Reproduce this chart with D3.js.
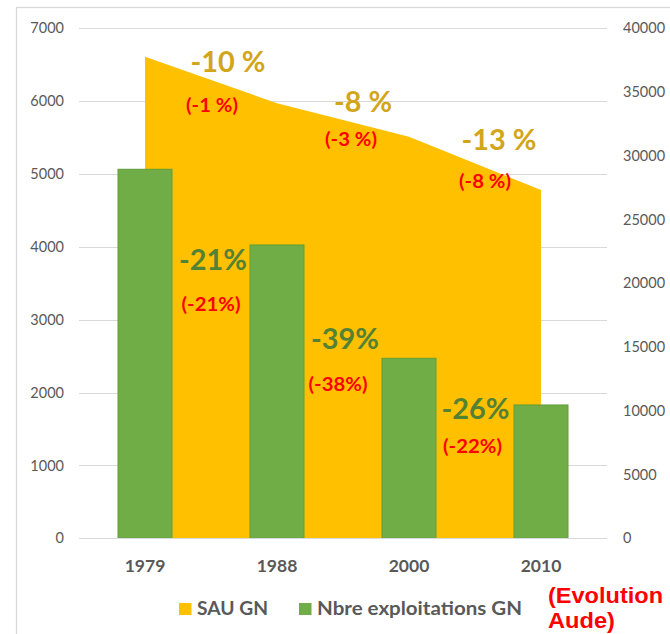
<!DOCTYPE html>
<html>
<head>
<meta charset="utf-8">
<script src="https://cdn.jsdelivr.net/npm/d3@7/dist/d3.min.js"></script>
<style>
  html, body { margin: 0; padding: 0; background: #ffffff; }
  svg { display: block; }
  text { font-family: Lato, "Open Sans", "Liberation Sans", sans-serif; }
</style>
</head>
<body>
<svg id="chart" width="670" height="634"></svg>
<script>
// ---- data ----
const years = ["1979", "1988", "2000", "2010"];
const sauGN = [37770, 34120, 31500, 27320];          // right axis (area)
const exploitationsGN = [5065, 4026, 2471, 1830];    // left axis (bars)
const leftTicks = [0, 1000, 2000, 3000, 4000, 5000, 6000, 7000];
const rightTicks = [0, 5000, 10000, 15000, 20000, 25000, 30000, 35000, 40000];
const sauChange = ["-10 %", "-8 %", "-13 %"];
const sauChangeAude = ["(-1 %)", "(-3 %)", "(-8 %)"];
const exploitChange = ["-21%", "-39%", "-26%"];
const exploitChangeAude = ["(-21%)", "(-38%)", "(-22%)"];
const legendLabels = ["SAU GN", "Nbre exploitations GN"];
const noteLines = ["(Evolution", "Aude)"];

// ---- drawing ----
const svg = d3.select("#chart");
const plot = { left: 79, right: 607, top: 28.3, bottom: 538.3 };
const gridColor = "#D9D9D9", axisText = "#595959";
const gold = "#FFC000", green = "#70AD47";

// chart border
svg.append("rect").attr("x", 16.5).attr("y", 7.5).attr("width", 700).attr("height", 700)
  .attr("fill", "none").attr("stroke", gridColor).attr("stroke-width", 1.3);

const x = d3.scaleBand().domain(years).range([plot.left, plot.right]).padding(0);
const yL = d3.scaleLinear().domain([0, 7000]).range([plot.bottom, plot.top]);
const yR = d3.scaleLinear().domain([0, 40000]).range([plot.bottom, plot.top]);
const cx = d => x(d) + x.bandwidth() / 2;

// gridlines
svg.append("g").selectAll("line").data(leftTicks).join("line")
  .attr("x1", plot.left).attr("x2", plot.right)
  .attr("y1", d => Math.round(yL(d)) + 0.5).attr("y2", d => Math.round(yL(d)) + 0.5)
  .attr("stroke", gridColor).attr("stroke-width", 1);

// left axis
const axL = svg.append("g").attr("transform", `translate(${plot.left},0)`)
  .call(d3.axisLeft(yL).tickValues(leftTicks).tickFormat(d3.format("d")).tickSize(0).tickPadding(15));
axL.select(".domain").remove();
axL.selectAll("text").attr("fill", axisText).style("font-size", "14.5px").style("font-family", "Lato, sans-serif");

// right axis
const axR = svg.append("g").attr("transform", `translate(${plot.right},0)`)
  .call(d3.axisRight(yR).tickValues(rightTicks).tickFormat(d3.format("d")).tickSize(0).tickPadding(16));
axR.select(".domain").remove();
axR.selectAll("text").attr("fill", axisText).style("font-size", "14.5px").style("font-family", "Lato, sans-serif");

// area (SAU)
const areaData = years.map((y, i) => ({ year: y, v: sauGN[i] }));
svg.append("path").datum(areaData)
  .attr("d", d3.area().x(d => cx(d.year)).y0(yR(0)).y1(d => yR(d.v)))
  .attr("fill", gold);

// bars (exploitations)
const barW = 54;
svg.append("g").selectAll("rect").data(years.map((y, i) => ({ year: y, v: exploitationsGN[i] }))).join("rect")
  .attr("x", d => cx(d.year) - barW / 2)
  .attr("y", d => yL(d.v))
  .attr("width", barW)
  .attr("height", d => yL(0) - yL(d.v))
  .attr("fill", green).attr("stroke", "#5E9E3A").attr("stroke-width", 1);

// bottom axis line
svg.append("line").attr("x1", plot.left).attr("x2", plot.right)
  .attr("y1", Math.round(yL(0)) + 0.5).attr("y2", Math.round(yL(0)) + 0.5)
  .attr("stroke", gridColor);

// x axis labels
const axB = svg.append("g").attr("transform", `translate(0,${plot.bottom})`)
  .call(d3.axisBottom(x).tickSize(0).tickPadding(21));
axB.select(".domain").remove();
axB.selectAll("text").attr("fill", axisText).style("font-size", "17.5px").style("font-weight", "bold")
  .style("font-family", "Lato, sans-serif");

// annotations (placed between categories)
const mid = i => (cx(years[i]) + cx(years[i + 1])) / 2;
function label(txt, xPos, yPos, size, color, len) {
  const t = svg.append("text").attr("x", xPos).attr("y", yPos).attr("text-anchor", "middle")
    .attr("fill", color).style("font-size", size + "px").style("font-weight", "bold").text(txt);
  if (len) t.attr("textLength", len).attr("lengthAdjust", "spacingAndGlyphs");
  return t;
}
const sauPos = [[17, 72], [20, 112], [24, 150]];
const sauAudePos = [[1, 111.5], [8, 145.5], [10, 187.5]];
const sauLen = [75, 58, 75];
const sauAudeLen = [52, 52, 52];
sauChange.forEach((t, i) => label(t, mid(i) + sauPos[i][0], sauPos[i][1], 29, "#D2A51B", sauLen[i]));
sauChangeAude.forEach((t, i) => label(t, mid(i) + sauAudePos[i][0], sauAudePos[i][1], 18, "#FF0000", sauAudeLen[i]));

const exPos = [[2, 269.5], [2, 349], [0.5, 418.5]];
const exAudePos = [[0, 310.5], [-5, 390.5], [-2.5, 453]];
exploitChange.forEach((t, i) => label(t, mid(i) + exPos[i][0], exPos[i][1], 29, "#548235", 68));
exploitChangeAude.forEach((t, i) => label(t, mid(i) + exAudePos[i][0], exAudePos[i][1], 18, "#FF0000", 59));

// legend
const legend = svg.append("g");
const legX = [179, 299], legTxtX = [197, 317], legLen = [71, 205];
[gold, green].forEach((c, i) => {
  legend.append("rect").attr("x", legX[i]).attr("y", 603).attr("width", 12.5).attr("height", 12).attr("fill", c);
  legend.append("text").attr("x", legTxtX[i]).attr("y", 615).attr("fill", axisText)
    .style("font-size", "18px").style("font-weight", "bold")
    .attr("textLength", legLen[i]).attr("lengthAdjust", "spacingAndGlyphs").text(legendLabels[i]);
});

// note
const noteLen = [115, 67];
noteLines.forEach((t, i) => {
  svg.append("text").attr("x", 548).attr("y", 603 + i * 25).attr("fill", "#FF0000")
    .style("font-family", "'Liberation Sans', Arial, sans-serif").style("font-size", "22.5px").style("font-weight", "bold")
    .attr("textLength", noteLen[i]).attr("lengthAdjust", "spacingAndGlyphs").text(t);
});
</script>
</body>
</html>
